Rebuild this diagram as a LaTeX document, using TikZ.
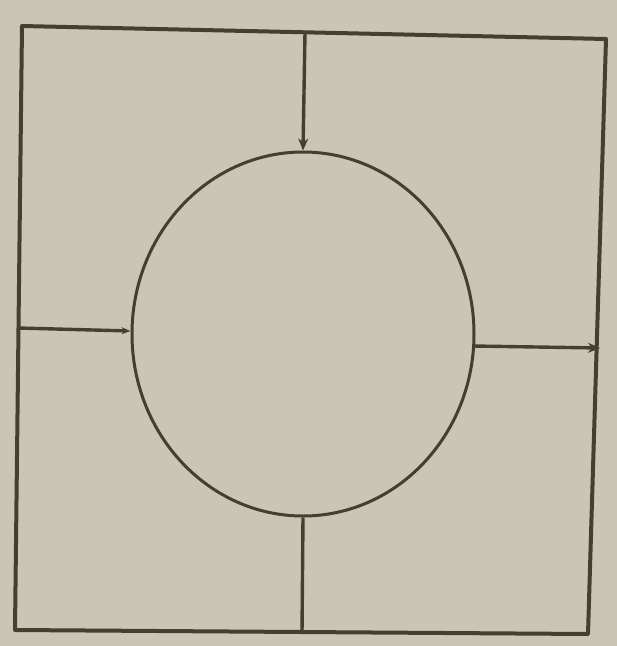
\documentclass[tikz,border=0pt]{standalone}
\usetikzlibrary{arrows.meta,shapes.geometric}
\definecolor{paper}{RGB}{202,198,182}
\definecolor{ink}{RGB}{68,64,46}
\begin{document}
\begin{tikzpicture}[x=1pt,y=-1pt,
  inkline/.style={draw=ink,line width=4pt,line cap=round,line join=round},
  thinline/.style={draw=ink,line width=3.4pt},
  tip/.style={-{Stealth[length=12pt,width=10pt]}}]
\fill[paper] (0,0) rectangle (617,646);
\useasboundingbox (0,0) rectangle (617,646);
\coordinate (tl) at (22,26);
\coordinate (tr) at (606,39);
\coordinate (br) at (588,634);
\coordinate (bl) at (15,630);
\draw[inkline] (tl) -- (tr) -- (br) -- (bl) -- cycle;
\node[ellipse,draw=ink,line width=3pt,minimum width=342pt,minimum height=364pt,inner sep=0pt] (c) at (303,334) {};
\coordinate (topin) at (305,33);
\coordinate (leftin) at (18,328);
\coordinate (rightin) at (600,348);
\coordinate (botin) at (302,633);
\draw[thinline,tip] (topin) -- (c.north);
\draw[thinline,-{Stealth[length=9pt,width=7pt]}] (leftin) -- (c.179);
\draw[thinline,tip] (c.-4) -- (rightin);
\draw[thinline] (c.south) -- (botin);
\end{tikzpicture}
\end{document}
